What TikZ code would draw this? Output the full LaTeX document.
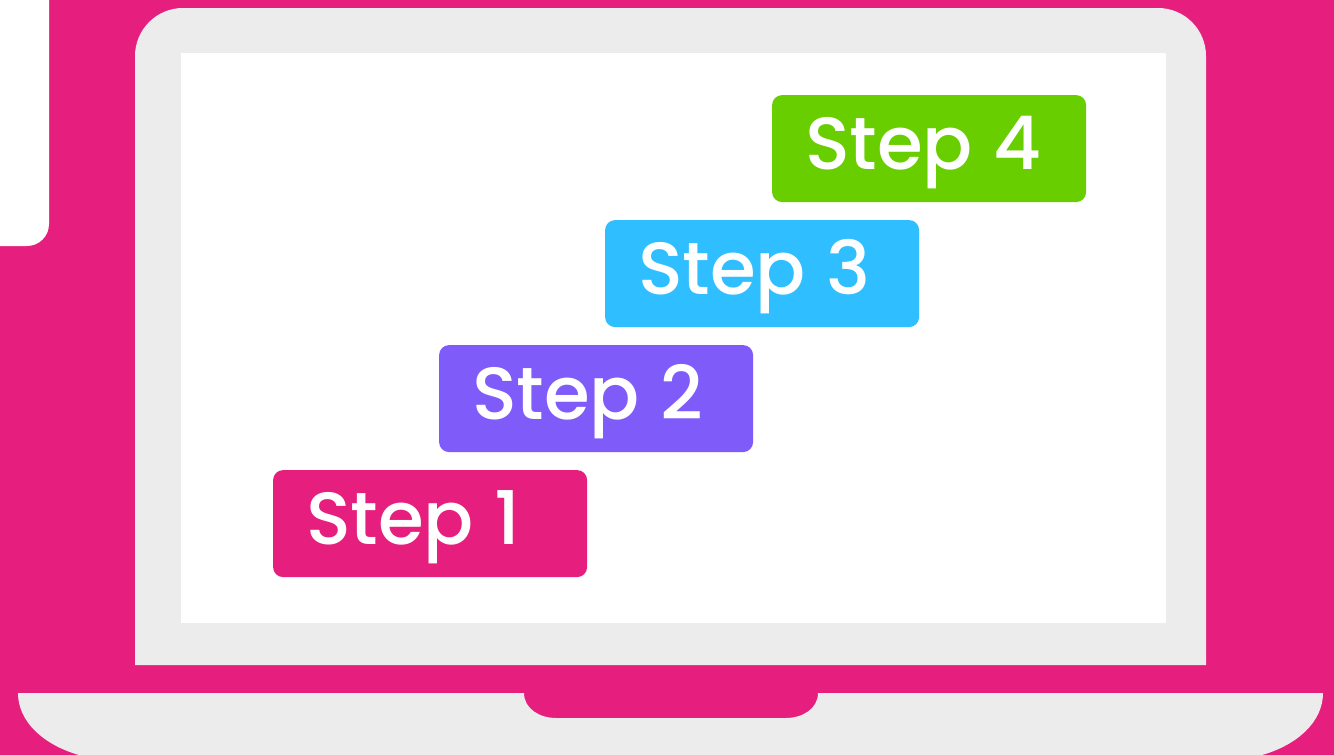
\documentclass[tikz,border=0pt]{standalone}
\usepackage{fontspec}
\setmainfont{Poppins Medium}
\usepackage{xcolor}
\definecolor{pinkbg}{HTML}{E61F7E}
\definecolor{graylid}{HTML}{ECECEC}
\definecolor{greenbox}{HTML}{68CE00}
\definecolor{bluebox}{HTML}{2FBEFF}
\definecolor{purplebox}{HTML}{7F5CF9}
\tikzset{shell/.style={fill=graylid,draw=none},
stepbox/.style={draw=none,rounded corners=5pt,text=white,anchor=north west,minimum height=53.5pt,text width=124pt,align=left,inner xsep=16.5pt,inner ysep=0pt,text height=24pt,text depth=3pt,font=\fontsize{37}{37}\selectfont}}

\begin{document}
\begin{tikzpicture}[x=.5pt,y=-.5pt]
\fill[pinkbg] (0,0) rectangle (1334,755);
\useasboundingbox (0,0) rectangle (1334,755);
\fill[white] (0,0)--(49,0)--(49,224) arc[start angle=0,end angle=-90,radius=11pt]--(0,246)--cycle;
% lid and screen
\fill[shell] (135,665)--(135,56) arc[start angle=180,end angle=90,radius=24pt]--(1158,8) arc[start angle=90,end angle=0,radius=24pt]--(1206,665)--cycle;
\fill[white] (181,53) rectangle (1166,623);
% base with notch
\fill[shell] (18,693)--(524,693) .. controls (524,709) and (540,718) .. (556,718)--(786,718) .. controls (802,718) and (818,709) .. (818,693)--(1323,693) .. controls (1323,722) and (1297,745) .. (1262,755)--(79,755) .. controls (44,745) and (18,722) .. (18,693)--cycle;
\foreach \name/\x/\y/\col/\num in {stepa/272.7/469.7/pinkbg/1,stepb/438.7/344.7/purplebox/2,stepc/604.7/219.7/bluebox/3,stepd/771.7/94.7/greenbox/4} {
\node[stepbox,fill=\col] (\name) at (\x,\y) {Step\kern-2pt{} \num};
}
\end{tikzpicture}
\end{document}
